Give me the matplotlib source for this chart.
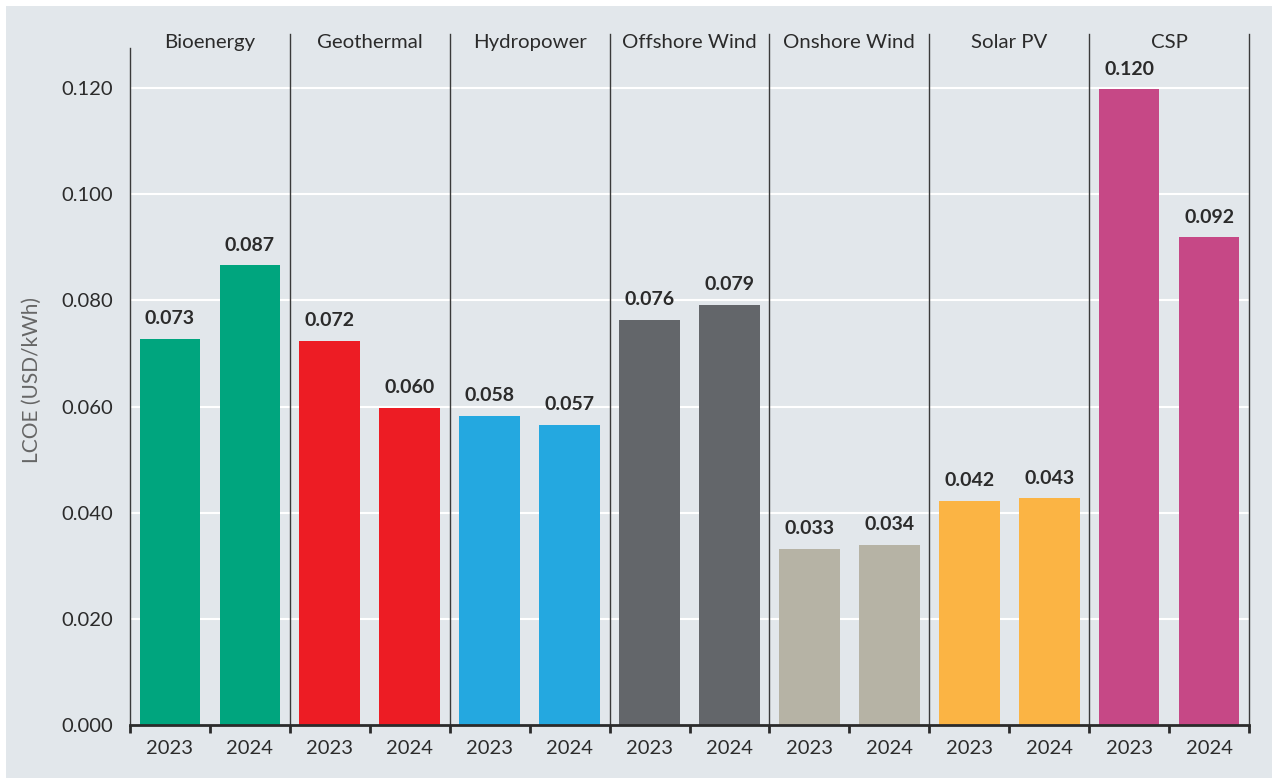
import matplotlib.pyplot as plt
import matplotlib.patches as mpatches
import numpy as np

plt.rcParams["font.family"] = ["Lato", "DejaVu Sans"]

technologies = ["Bioenergy", "Geothermal", "Hydropower", "Offshore Wind",
                "Onshore Wind", "Solar PV", "CSP"]
years = ["2023", "2024"]
lcoe_2023 = [0.0728, 0.0724, 0.0583, 0.0764, 0.0332, 0.0422, 0.1198]
lcoe_2024 = [0.0866, 0.0598, 0.0566, 0.0792, 0.0339, 0.0427, 0.0919]
colors = ["#00a57e", "#ed1c24", "#24a8e0", "#63666a", "#b6b3a5", "#fbb444", "#c64886"]

bg = "#e2e7eb"
text_col = "#2b2b2b"

fig = plt.figure(figsize=(12.72, 7.78), dpi=100, facecolor="white")
fig.patches.append(mpatches.Rectangle((6 / 1272, 0), 1, 1 - 6 / 778,
                                      transform=fig.transFigure, facecolor=bg,
                                      edgecolor="none", zorder=-10))
ax = fig.add_axes([130 / 1272, 1 - 725 / 778, 1119 / 1272, 691 / 778])
ax.set_facecolor(bg)

ymax = 0.1302
ax.set_ylim(0, ymax)
ax.set_xlim(0, 2 * len(technologies))

# gridlines
yticks = np.arange(0, 0.121, 0.02)
for y in yticks[1:]:
    ax.axhline(y, color="white", lw=1.5, zorder=1)

# bars
for i, tech in enumerate(technologies):
    for j, val in enumerate([lcoe_2023[i], lcoe_2024[i]]):
        x = 2 * i + j + 0.5
        ax.bar(x, val, width=0.76, color=colors[i], zorder=2)
        ax.text(x, val + 0.0022, f"{val:.3f}", ha="center", va="bottom",
                fontsize=14, fontweight="bold", color=text_col, zorder=3)
    ax.text(2 * i + 1, 0.1286, tech, ha="center", va="center",
            fontsize=14.7, color=text_col)
    # group separators
    ax.axvline(2 * i + 2, color="#3a3a3a", lw=1.0, zorder=3, clip_on=False)

# spines
for s in ["top", "right"]:
    ax.spines[s].set_visible(False)
ax.spines["left"].set_bounds(0, 0.1275)
ax.spines["left"].set_color("#3a3a3a")
ax.spines["left"].set_linewidth(1.0)
ax.spines["bottom"].set_color("#2b2b2b")
ax.spines["bottom"].set_linewidth(2.0)
ax.spines["bottom"].set_zorder(4)

ax.set_yticks(yticks)
ax.set_yticklabels([f"{v:.3f}" for v in yticks])
ax.tick_params(axis="y", length=0, pad=12, labelsize=14.5, labelcolor=text_col)

ax.set_xticks(np.arange(0, 2 * len(technologies) + 1))
ax.set_xticklabels([])
ax.set_xticks(np.arange(0.5, 2 * len(technologies)), minor=True)
ax.set_xticklabels(years * len(technologies), minor=True)
ax.tick_params(axis="x", which="major", length=6, width=2, color="#2b2b2b")
ax.tick_params(axis="x", which="minor", length=0, pad=11, labelsize=14.5,
               labelcolor=text_col)

ax.set_ylabel("LCOE (USD/kWh)", fontsize=15, color="#666666", labelpad=14)

fig.savefig("out.png", dpi=100, facecolor=fig.get_facecolor())
